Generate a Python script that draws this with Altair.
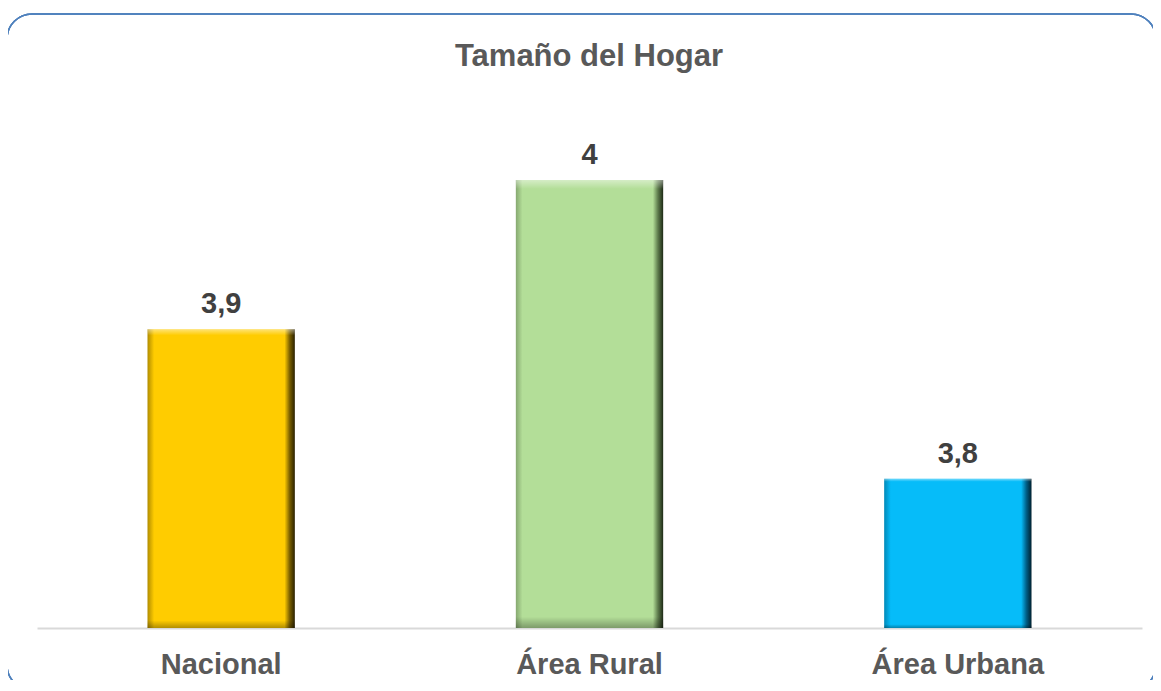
import altair as alt
import pandas as pd

title_text = "Tamaño del Hogar"
categories = ["Nacional", "Área Rural", "Área Urbana"]
values = [3.9, 4.0, 3.8]
labels = ["3,9", "4", "3,8"]
base_value = 3.7

df = pd.DataFrame({"cat": categories, "val": values, "lab": labels,
                   "base": [base_value] * len(categories)})

fills = {
    "Nacional": ["#B08C00", "#FFCC00", "#FFCC00", "#7A6000", "#2A2000"],
    "Área Rural": ["#86A870", "#B3DE98", "#B3DE98", "#5D7A4C", "#1E2A16"],
    "Área Urbana": ["#0089B8", "#06BCF9", "#06BCF9", "#006088", "#00202E"],
}

x_enc = alt.X("cat:N", sort=categories,
              scale=alt.Scale(paddingInner=0.6, paddingOuter=0.3),
              axis=alt.Axis(title=None, labelAngle=0, labelFontSize=29,
                            labelFont="Liberation Sans", labelFontWeight="bold",
                            labelColor="#595959", labelPadding=22, ticks=False,
                            domainColor="#D9D9D9", domainWidth=2, grid=False))
y_scale = alt.Scale(domain=[3.7, 4.0], nice=False, zero=False)
y_enc = alt.Y("val:Q", scale=y_scale, axis=None)

base = alt.Chart(df)

layers = []
for c in categories:
    s = fills[c]
    grad = alt.Gradient(gradient="linear", x1=0, x2=1, y1=0, y2=0, stops=[
        alt.GradientStop(color=s[0], offset=0),
        alt.GradientStop(color=s[1], offset=0.045),
        alt.GradientStop(color=s[2], offset=0.93),
        alt.GradientStop(color=s[3], offset=0.965),
        alt.GradientStop(color=s[4], offset=1),
    ])
    layers.append(
        base.transform_filter(alt.datum.cat == c)
        .mark_bar(color=grad, clip=False)
        .encode(x=x_enc, y=y_enc, y2="base:Q")
    )

vgrad = alt.Gradient(gradient="linear", x1=0, x2=0, y1=0, y2=1, stops=[
    alt.GradientStop(color="rgba(255,255,255,0.45)", offset=0),
    alt.GradientStop(color="rgba(255,255,255,0)", offset=0.02),
    alt.GradientStop(color="rgba(0,0,0,0)", offset=0.975),
    alt.GradientStop(color="rgba(0,0,0,0.3)", offset=1),
])
bevel = base.mark_bar(color=vgrad).encode(x=x_enc, y=y_enc, y2="base:Q")

text = base.mark_text(font="Liberation Sans", fontSize=29, fontWeight="bold",
                      color="#404040", baseline="alphabetic", dy=-16).encode(
    x=x_enc, y=y_enc, text="lab:N")

title = alt.Chart(pd.DataFrame({"t": [title_text]})).mark_text(
    font="Liberation Sans", fontSize=31, fontWeight="bold", color="#595959",
    baseline="alphabetic", align="center").encode(
    x=alt.value(552), y=alt.value(-114), text="t:N")

frame = base.mark_rect(filled=False, stroke="#4F81BD", strokeWidth=1.5,
                       cornerRadius=25, clip=False).encode(
    x=alt.value(-30), x2=alt.value(1119), y=alt.value(-166), y2=alt.value(510))

chart = alt.layer(frame, *layers, bevel, text, title).properties(
    width=1105, height=448,
    autosize=alt.AutoSizeParams(type="none"),
    padding={"left": 29, "top": 172, "right": 11, "bottom": 52},
).configure_view(stroke=None)

chart.save("out.html", embed_options={"renderer": "svg", "actions": False})
